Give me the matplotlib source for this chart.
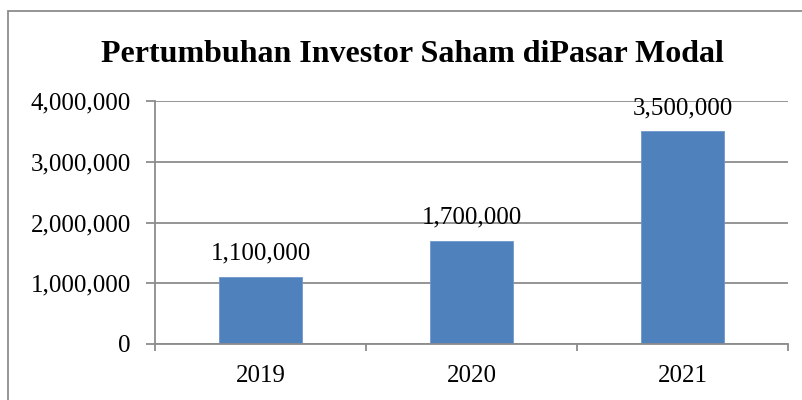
import matplotlib
matplotlib.use("Agg")
import matplotlib.pyplot as plt
from matplotlib.patches import Rectangle
from matplotlib.ticker import FuncFormatter

categories = ["2019", "2020", "2021"]
values = [1100000, 1700000, 3500000]
value_labels = ["1,100,000", "1,700,000", "3,500,000"]
title = "Pertumbuhan Investor Saham diPasar Modal"

plt.rcParams["font.family"] = ["Liberation Serif", "DejaVu Serif"]

W, H = 803, 400
fig = plt.figure(figsize=(W / 100, H / 100), dpi=100)
ax = fig.add_axes([155 / W, 1 - 344 / H, (788 - 155) / W, (344 - 101) / H])

gray = "#8c8c8c"
blue = "#4f81bd"

x = list(range(len(categories)))
bars = ax.bar(x, values, width=0.39, color=blue, edgecolor="#6e98cc", linewidth=0.6, zorder=3)

ax.set_xlim(-0.5, len(categories) - 0.5)
ax.set_ylim(0, 4000000)
ax.set_yticks([0, 1000000, 2000000, 3000000, 4000000])
ax.yaxis.set_major_formatter(FuncFormatter(lambda v, p: f"{int(v):,}"))
ax.grid(axis="y", color=gray, linewidth=1.3, zorder=1)

ax.set_xticks(x)
ax.set_xticklabels(categories)
ax.set_xticks([i - 0.5 for i in range(len(categories) + 1)], minor=True)

for s in ["top", "right"]:
    ax.spines[s].set_visible(False)
for s in ["left", "bottom"]:
    ax.spines[s].set_color(gray)
    ax.spines[s].set_linewidth(1.3)
ax.spines["bottom"].set_zorder(4)

ax.tick_params(axis="y", which="major", length=6.5, width=1.3, color=gray, labelsize=18, pad=11)
ax.tick_params(axis="x", which="major", length=0, labelsize=18, pad=15)
ax.tick_params(axis="x", which="minor", length=5, width=1.3, color=gray, direction="out")

for xi, v, lab in zip(x, values, value_labels):
    ax.annotate(lab, (xi, v), xytext=(0, 12.5), textcoords="offset points",
                ha="center", va="baseline", fontsize=18, zorder=5)

fig.text(412 / W, 1 - 62 / H, title, ha="center", va="baseline", fontsize=23, fontweight="bold")

fig.patches.append(Rectangle((8 / W, -0.1), 1.2, 1.1 - 11 / H, transform=fig.transFigure,
                             fill=False, edgecolor=gray, linewidth=1.3, clip_on=False))

fig.savefig("out.png", dpi=100)
